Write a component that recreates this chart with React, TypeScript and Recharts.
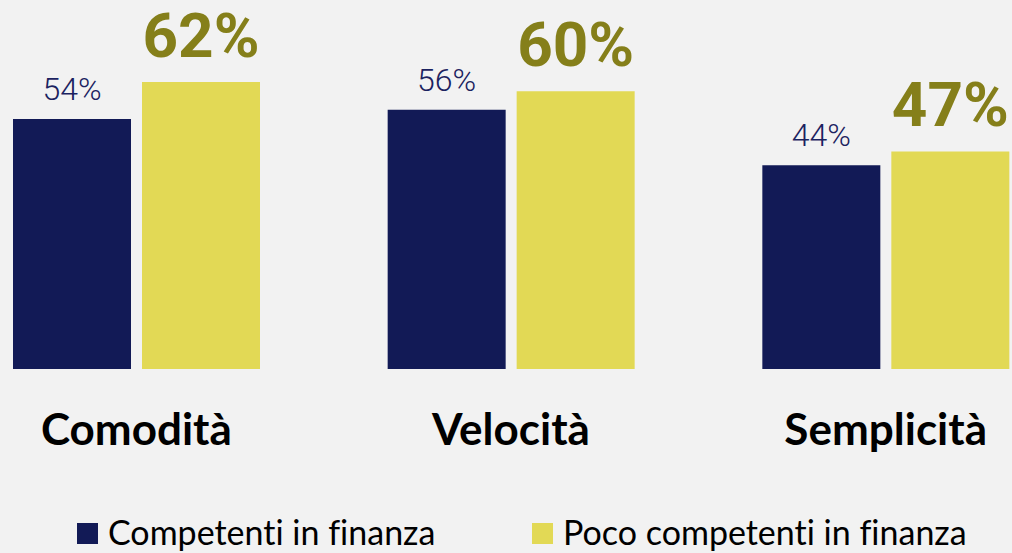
import React from "react";
import { BarChart, Bar, XAxis, YAxis, Legend, LabelList } from "recharts";

const categories = ["Comodità", "Velocità", "Semplicità"];
const competenti = [54, 56, 44];
const pocoCompetenti = [62, 60, 47];
const seriesNames = ["Competenti in finanza", "Poco competenti in finanza"];

const NAVY = "#121A56";
const YELLOW = "#E2D955";
const OLIVE = "#857F1A";

const data = categories.map((name, i) => ({
  name,
  competenti: competenti[i],
  poco: pocoCompetenti[i],
}));

const CategoryTick = (props: any) => {
  const { x, y, payload } = props;
  return (
    <text
      x={x}
      y={y}
      dy={76}
      textAnchor="middle"
      fill="#000"
      fontFamily="Lato"
      fontWeight={700}
      fontSize={44}
    >
      {payload.value}
    </text>
  );
};

// small navy labels above the first series
const SmallLabel = (props: any) => {
  const { x, y, width, value } = props;
  return (
    <text
      x={x + width / 2}
      y={y - 19}
      textAnchor="middle"
      fill="#1B2260"
      fontFamily="Roboto"
      fontWeight={300}
      fontSize={32}
    >
      {`${value}%`}
    </text>
  );
};

// big bold olive labels above the second series
const BigLabel = (props: any) => {
  const { x, y, width, value } = props;
  return (
    <text
      x={x + width / 2}
      y={y - 25}
      textAnchor="middle"
      fill={OLIVE}
      fontFamily="Roboto"
      fontWeight={700}
      fontSize={62}
    >
      {`${value}%`}
    </text>
  );
};

const LegendContent = () => {
  const colors = [NAVY, YELLOW];
  return (
    <div
      style={{
        height: 60,
        display: "flex",
        alignItems: "flex-start",
        paddingLeft: 128,
        paddingTop: 18,
        boxSizing: "border-box",
        fontFamily: "Lato",
        fontSize: 34,
        fontVariantLigatures: "none",
        color: "#000",
        whiteSpace: "nowrap",
      }}
    >
      {seriesNames.map((s, i) => (
        <div key={s} style={{ display: "flex", alignItems: "center", width: i === 0 ? 455 : "auto" }}>
          <span style={{ display: "inline-block", width: 21, height: 21, background: colors[i], marginRight: 10, marginTop: 4 }} />
          <span>{s}</span>
        </div>
      ))}
    </div>
  );
};

export default function App() {
  return (
    <div
      style={{
        position: "fixed",
        top: 0,
        left: 0,
        width: 1012,
        height: 553,
        overflow: "hidden",
        background: "#F2F2F2",
      }}
    >
      <div style={{ position: "absolute", left: -51, top: 0 }}>
        <BarChart
          width={1124}
          height={553}
          data={data}
          margin={{ top: 45, right: 0, left: 0, bottom: 0 }}
          barGap={11}
          barSize={118}
        >
          <XAxis
            dataKey="name"
            axisLine={false}
            tickLine={false}
            tickSize={0}
            tickMargin={0}
            height={124}
            interval={0}
            tick={<CategoryTick />}
          />
          <YAxis hide domain={[0, 70]} />
          <Legend
            verticalAlign="bottom"
            wrapperStyle={{ left: 0, width: 1124 }}
            content={<LegendContent />}
          />
          <Bar dataKey="competenti" name={seriesNames[0]} fill={NAVY} isAnimationActive={false}>
            <LabelList dataKey="competenti" content={<SmallLabel />} />
          </Bar>
          <Bar dataKey="poco" name={seriesNames[1]} fill={YELLOW} isAnimationActive={false}>
            <LabelList dataKey="poco" content={<BigLabel />} />
          </Bar>
        </BarChart>
      </div>
    </div>
  );
}
